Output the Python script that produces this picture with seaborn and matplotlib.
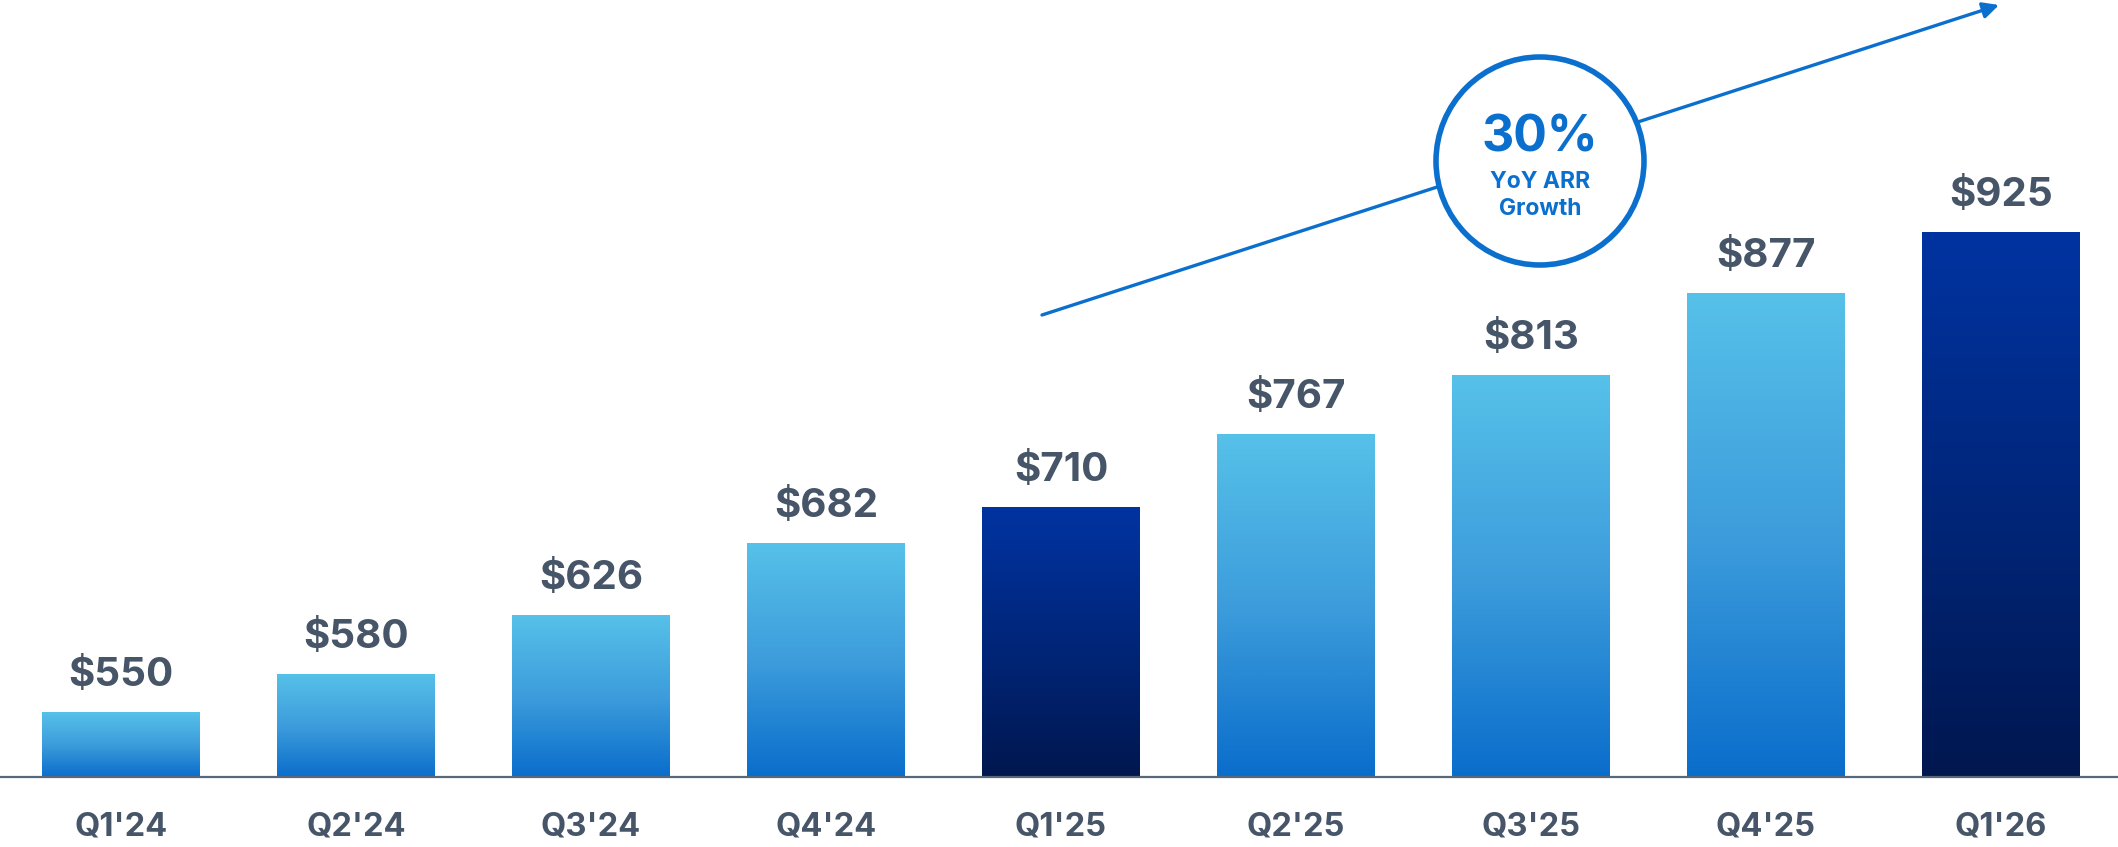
import numpy as np
import pandas as pd
import seaborn as sns
import matplotlib
matplotlib.use("Agg")
import matplotlib.pyplot as plt
from matplotlib.colors import LinearSegmentedColormap
from matplotlib.patches import Circle

# ARR by quarter ($M)
quarters = ["Q1'24", "Q2'24", "Q3'24", "Q4'24", "Q1'25", "Q2'25", "Q3'25", "Q4'25", "Q1'26"]
arr_values = [550, 580, 626, 682, 710, 767, 813, 877, 925]
highlight = [False, False, False, False, True, False, False, False, True]
growth_label = "30%"
growth_caption = ["YoY ARR", "Growth"]

BASE = 500
TEXT = "#465568"
BLUE = "#0B6FCE"

df = pd.DataFrame({"quarter": quarters, "arr": arr_values})

sns.set_theme(style="white")
plt.rcParams["font.family"] = ["Inter", "DejaVu Sans"]

fig = plt.figure(figsize=(21.18, 8.47), dpi=100)
ax = fig.add_axes([0, 0, 1, 1])

palette = {q: ("#002a86" if h else "#3d9ddc") for q, h in zip(quarters, highlight)}
sns.barplot(data=df, x="quarter", y="arr", hue="quarter", palette=palette,
            legend=False, width=0.672, ax=ax, saturation=1)

light = LinearSegmentedColormap.from_list(
    "light", [(0, "#0a6dcb"), (0.5, "#3d9ddc"), (1, "#56c1e9")])
dark = LinearSegmentedColormap.from_list(
    "dark", [(0, "#00174f"), (0.5, "#00267a"), (1, "#0033a1")])
grad = np.linspace(0, 1, 256).reshape(-1, 1)

for patch, h, val in zip(ax.patches, highlight, arr_values):
    x0 = patch.get_x()
    w = patch.get_width()
    top = patch.get_height()
    patch.set_visible(False)
    ax.imshow(grad, cmap=dark if h else light, origin="lower", aspect="auto",
              extent=(x0, x0 + w, BASE, top), zorder=1, interpolation="bicubic")
    ax.annotate(f"${val}", xy=(x0 + w / 2, top), xytext=(0, 19),
                textcoords="offset points", ha="center", va="baseline",
                fontsize=29, fontweight="bold", color=TEXT)

ax.set_xlim(-0.5145, 8.498)
ax.set_ylim(445.4, 1106)

for s in ["top", "right", "left"]:
    ax.spines[s].set_visible(False)
ax.spines["bottom"].set_position(("data", BASE))
ax.spines["bottom"].set_color("#56687a")
ax.spines["bottom"].set_linewidth(1.6)
ax.spines["bottom"].set_zorder(3)
ax.set_yticks([])
ax.set_xlabel("")
ax.set_ylabel("")
ax.tick_params(axis="x", length=0, pad=25, labelsize=23.5, labelcolor=TEXT)
for lab in ax.get_xticklabels():
    lab.set_fontweight("bold")

# growth trend arrow
ax.annotate("", xy=(1999 / 2118, 1 - 5 / 847), xytext=(1042 / 2118, 1 - 315 / 847),
            xycoords="axes fraction", textcoords="axes fraction",
            arrowprops=dict(arrowstyle="-|>", color=BLUE, lw=2.4,
                            mutation_scale=24, shrinkA=0, shrinkB=0),
            zorder=4)

# growth badge
badge = Circle((15.40, 8.47 - 1.61), 1.04, transform=fig.dpi_scale_trans,
               facecolor="white", edgecolor=BLUE, linewidth=4, zorder=5)
fig.add_artist(badge)
cx = 1540 / 2118
fig.text(cx, 1 - 151 / 847, growth_label, ha="center", va="baseline",
         fontsize=36, fontweight="bold", color=BLUE, zorder=6)
fig.text(cx, 1 - 188 / 847, growth_caption[0], ha="center", va="baseline",
         fontsize=16.5, fontweight="bold", color=BLUE, zorder=6)
fig.text(cx, 1 - 215 / 847, growth_caption[1], ha="center", va="baseline",
         fontsize=16.5, fontweight="bold", color=BLUE, zorder=6)

fig.savefig("out.png", dpi=100, facecolor="white")
